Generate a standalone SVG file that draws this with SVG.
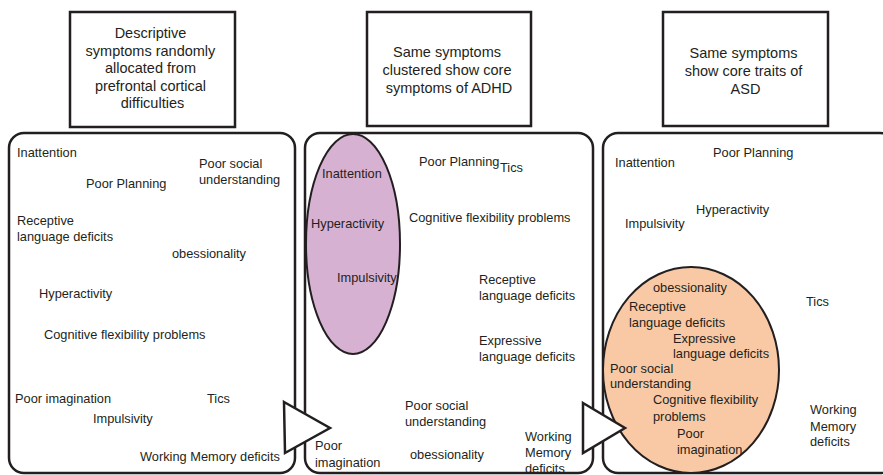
<svg xmlns="http://www.w3.org/2000/svg" width="883" height="475" viewBox="0 0 883 475">
  <style>
    .title { fill: #fff; stroke: #231f20; stroke-width: 2.5; }
    .panel { fill: #fff; stroke: #231f20; stroke-width: 2.5; }
    .ttl { font-family: "Liberation Sans", Arial, sans-serif; font-size: 14.5px; fill: #231f20; text-anchor: middle; }
    .lbl { font-family: "Liberation Sans", Arial, sans-serif; font-size: 12.8px; fill: #231f20; }
    .arrow { fill: #fff; stroke: #231f20; stroke-width: 2.5; stroke-linejoin: miter; }
  </style>

  <!-- heading boxes -->
  <g id="heading-random">
    <rect class="title" x="70" y="12" width="165" height="115"/>
    <text class="ttl">
      <tspan x="152.5" y="38">Descriptive</tspan>
      <tspan x="152.5" y="55.5">symptoms randomly</tspan>
      <tspan x="152.5" y="73">allocated from</tspan>
      <tspan x="152.5" y="90.5">prefrontal cortical</tspan>
      <tspan x="152.5" y="108">difficulties</tspan>
    </text>
  </g>
  <g id="heading-adhd">
    <rect class="title" x="367" y="12" width="164" height="114"/>
    <text class="ttl">
      <tspan x="449" y="57">Same symptoms</tspan>
      <tspan x="449" y="75">clustered show core</tspan>
      <tspan x="449" y="93">symptoms of ADHD</tspan>
    </text>
  </g>
  <g id="heading-asd">
    <rect class="title" x="663" y="12" width="165" height="114"/>
    <text class="ttl">
      <tspan x="745.5" y="58">Same symptoms</tspan>
      <tspan x="745.5" y="76">show core traits of</tspan>
      <tspan x="745.5" y="94">ASD</tspan>
    </text>
  </g>

  <!-- panel 1: symptoms scattered -->
  <g id="panel-random">
    <rect class="panel" x="9" y="133" width="286" height="340" rx="15" ry="15"/>
    <text class="lbl" x="17" y="157">Inattention</text>
    <text class="lbl"><tspan x="199" y="168">Poor social</tspan><tspan x="199" y="184">understanding</tspan></text>
    <text class="lbl" x="86" y="188">Poor Planning</text>
    <text class="lbl"><tspan x="17" y="225">Receptive</tspan><tspan x="17" y="241">language deficits</tspan></text>
    <text class="lbl" x="172" y="258">obessionality</text>
    <text class="lbl" x="39" y="298">Hyperactivity</text>
    <text class="lbl" x="44" y="339">Cognitive flexibility problems</text>
    <text class="lbl" x="15" y="403">Poor imagination</text>
    <text class="lbl" x="207" y="403">Tics</text>
    <text class="lbl" x="93" y="423">Impulsivity</text>
    <text class="lbl" x="140" y="461">Working Memory deficits</text>
  </g>

  <!-- panel 2: ADHD cluster -->
  <g id="panel-adhd">
    <rect class="panel" x="305" y="133" width="288" height="340" rx="15" ry="15"/>
    <ellipse cx="353" cy="244" rx="47" ry="110" fill="#d7b1d2" stroke="#231f20" stroke-width="2"/>
    <text class="lbl" x="322" y="178">Inattention</text>
    <text class="lbl" x="311" y="228">Hyperactivity</text>
    <text class="lbl" x="337" y="282">Impulsivity</text>
    <text class="lbl" x="419" y="166">Poor Planning</text>
    <text class="lbl" x="500" y="172">Tics</text>
    <text class="lbl" x="409" y="222">Cognitive flexibility problems</text>
    <text class="lbl"><tspan x="479" y="284">Receptive</tspan><tspan x="479" y="300">language deficits</tspan></text>
    <text class="lbl"><tspan x="479" y="345">Expressive</tspan><tspan x="479" y="361">language deficits</tspan></text>
    <text class="lbl"><tspan x="405" y="410">Poor social</tspan><tspan x="405" y="426">understanding</tspan></text>
    <text class="lbl"><tspan x="315" y="450">Poor</tspan><tspan x="315" y="467">imagination</tspan></text>
    <text class="lbl" x="410" y="459">obessionality</text>
    <text class="lbl"><tspan x="525" y="441">Working</tspan><tspan x="525" y="457">Memory</tspan><tspan x="525" y="473">deficits</tspan></text>
  </g>

  <!-- panel 3: ASD cluster -->
  <g id="panel-asd">
    <rect class="panel" x="603" y="133" width="292" height="340" rx="15" ry="15"/>
    <ellipse cx="691" cy="370" rx="88" ry="103" fill="#f9c9a5" stroke="#231f20" stroke-width="2"/>
    <text class="lbl" x="713" y="157">Poor Planning</text>
    <text class="lbl" x="615" y="167">Inattention</text>
    <text class="lbl" x="696" y="214">Hyperactivity</text>
    <text class="lbl" x="625" y="228">Impulsivity</text>
    <text class="lbl" x="653" y="292">obessionality</text>
    <text class="lbl"><tspan x="629" y="311">Receptive</tspan><tspan x="629" y="327">language deficits</tspan></text>
    <text class="lbl"><tspan x="673" y="343">Expressive</tspan><tspan x="673" y="358">language deficits</tspan></text>
    <text class="lbl"><tspan x="610" y="373">Poor social</tspan><tspan x="610" y="388">understanding</tspan></text>
    <text class="lbl"><tspan x="653" y="404">Cognitive flexibility</tspan><tspan x="653" y="421">problems</tspan></text>
    <text class="lbl"><tspan x="677" y="438">Poor</tspan><tspan x="677" y="454">imagination</tspan></text>
    <text class="lbl" x="806" y="306">Tics</text>
    <text class="lbl"><tspan x="810" y="414">Working</tspan><tspan x="810" y="431">Memory</tspan><tspan x="810" y="446">deficits</tspan></text>
  </g>

  <!-- arrows between panels -->
  <g id="connectors">
    <polygon class="arrow" points="284,402 330,428 285,453"/>
    <polygon class="arrow" points="583,403 625,428 583,453"/>
  </g>
</svg>
